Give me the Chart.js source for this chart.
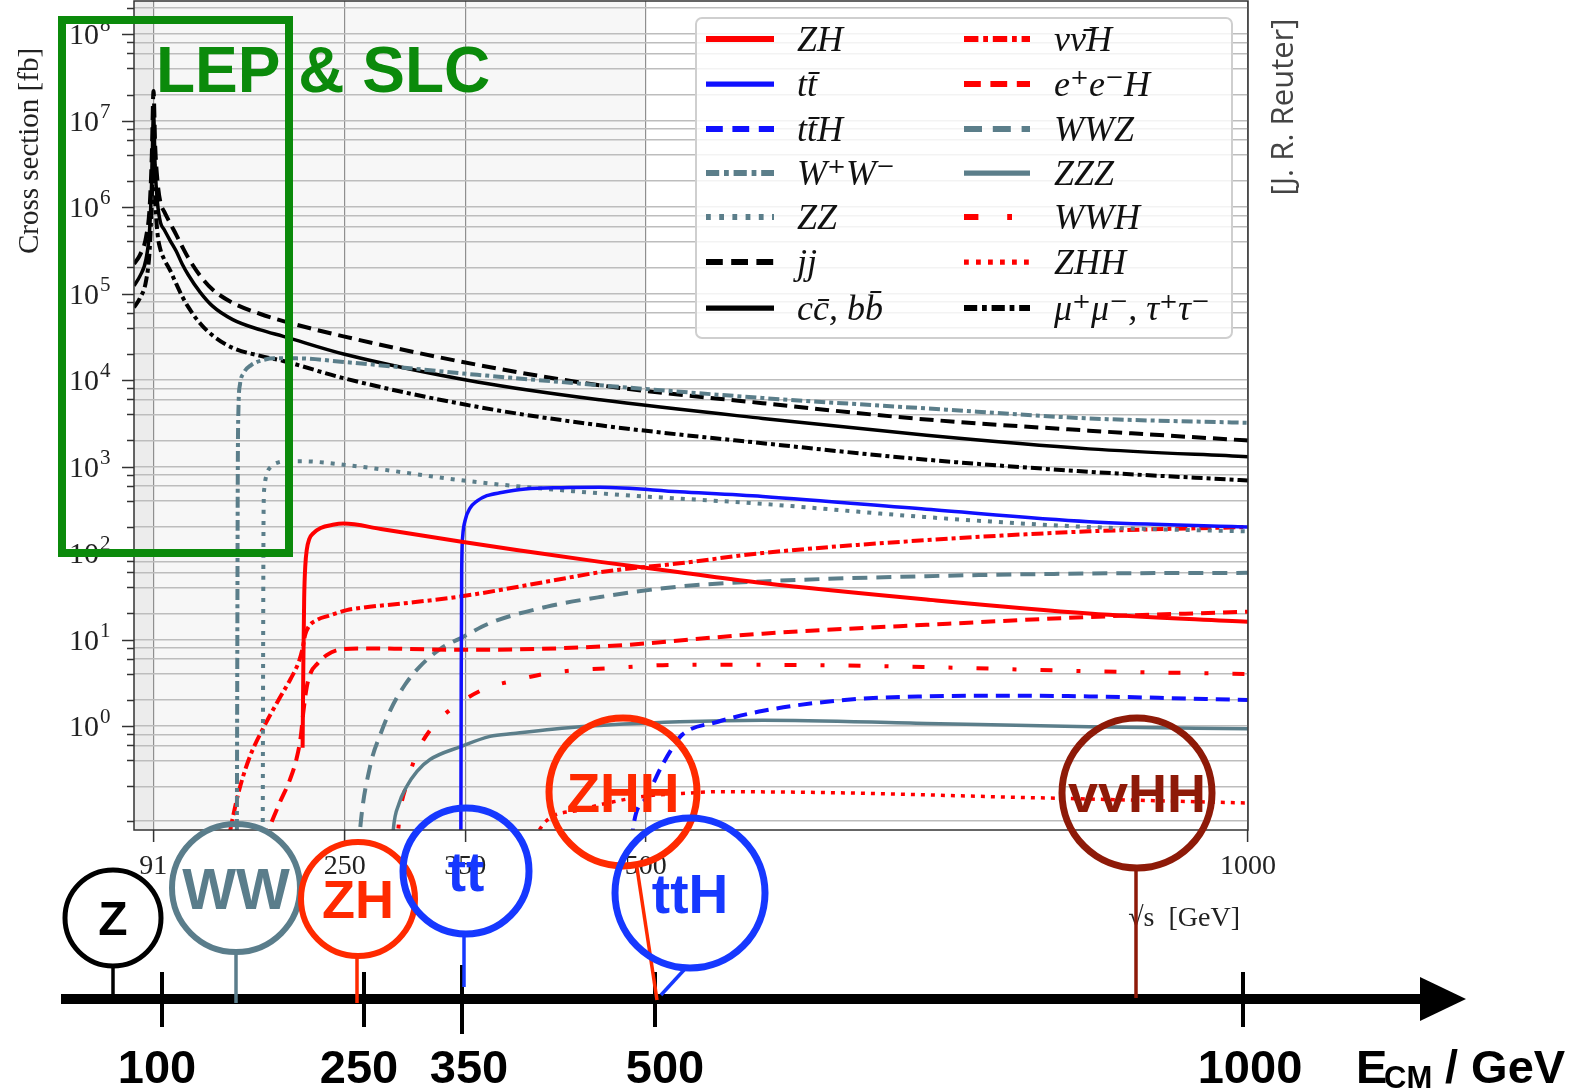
<!DOCTYPE html>
<html>
<head>
<meta charset="utf-8">
<script src="https://cdn.jsdelivr.net/npm/chart.js@4.4.1/dist/chart.umd.min.js"></script>
<style>
  html, body { margin: 0; padding: 0; background: #fff; }
  canvas { display: block; }
</style>
</head>
<body>
<canvas id="xsec" width="1581" height="1089"></canvas>
<script>
// e+e- cross sections [fb] against sqrt(s) [GeV]

// Z-pole processes share one energy grid
const zpoleE  = [75, 80, 85, 88, 89.8, 91.2, 92.6, 94.5, 97, 100, 105, 110, 115, 120, 130, 140, 157, 180, 199, 249, 360, 462, 597, 733, 868, 1000];
const jjXS    = [2.2e5, 2.8e5, 4.5e5, 1.0e6, 4.0e6, 2.2e7, 5.0e6, 2.0e6, 1.12e6, 8.9e5, 6.5e5, 4.8e5, 3.5e5, 2.6e5, 1.6e5, 1.12e5, 7.8e4, 5.8e4, 4.8e4, 3.2e4, 1.5e4, 8.7e3, 5.4e3, 3.5e3, 2.6e3, 2.0e3];
const ccbbXS  = [1.23e5, 1.6e5, 2.5e5, 5.6e5, 2.2e6, 1.26e7, 2.8e6, 1.12e6, 6.6e5, 5.5e5, 4.1e5, 3.1e5, 2.2e5, 1.65e5, 1.03e5, 7.2e4, 5.0e4, 3.8e4, 3.2e4, 2.0e4, 9.5e3, 5.9e3, 3.6e3, 2.3e3, 1.6e3, 1.3e3];
const mumuXS  = [6.9e4, 8.9e4, 1.4e5, 3.2e5, 1.26e6, 6.3e6, 1.26e6, 5.0e5, 3.2e5, 2.5e5, 1.85e5, 1.3e5, 9.3e4, 7.0e4, 4.5e4, 3.3e4, 2.35e4, 1.9e4, 1.66e4, 1.05e4, 4.9e3, 3.0e3, 1.86e3, 1.2e3, 870, 690];

const wwE   = [160.3, 160.8, 161.2, 161.8, 163, 166, 172, 182, 192, 210, 249, 360, 462, 597, 733, 868, 1000];
const wwXS  = [0.01, 10, 1000, 5000, 8900, 1.2e4, 1.48e4, 1.7e4, 1.78e4, 1.78e4, 1.62e4, 1.15e4, 8700, 6200, 4700, 3600, 3200];

const zzE   = [181.8, 182.2, 182.6, 183.2, 185, 189, 195, 202, 215, 249, 360, 462, 597, 733, 868, 1000];
const zzXS  = [0.01, 5, 300, 560, 800, 1000, 1120, 1150, 1150, 1050, 660, 490, 370, 260, 200, 178];

const ttE   = [346.3, 346.7, 347.1, 348, 350, 354, 360, 368, 380, 400, 430, 462, 528, 597, 733, 868, 1000];
const ttXS  = [0.01, 3.2, 63, 160, 240, 330, 400, 460, 500, 550, 570, 575, 510, 450, 320, 230, 200];

const zhE   = [215.0, 215.6, 216.3, 217.2, 218.5, 220.5, 224, 230, 240, 249, 280, 347, 400, 462, 528, 597, 733, 868, 1000];
const zhXS  = [0.56, 5, 30, 70, 110, 145, 170, 195, 212, 219, 190, 135, 105, 79, 60, 45, 29, 20, 16];

const nnhE  = [153.5, 160.8, 170, 182.4, 195, 205, 212, 215, 217, 220, 226, 237.7, 251.6, 265, 300, 347, 418, 462, 528, 597, 733, 868, 1000];
const nnhXS = [0.05, 0.15, 0.4, 0.95, 2.0, 3.5, 5.6, 7.9, 11.2, 14.1, 16.6, 19, 21.9, 23.4, 26.3, 31.6, 46.8, 60, 76, 100, 141, 178, 200];

const eehE  = [183, 188, 196, 204.5, 210, 213.5, 215.5, 218.4, 222, 227, 235, 245, 265, 300, 348, 462, 597, 733, 868, 1000];
const eehXS = [0.045, 0.07, 0.13, 0.24, 0.42, 0.76, 1.4, 2.8, 4.2, 5.2, 6.6, 7.6, 7.9, 7.8, 7.6, 8.3, 11.7, 14.8, 18.2, 21];

const wwzE  = [259, 262.7, 271, 280, 287.6, 300, 312.5, 330, 347, 370.6, 418, 462, 528, 597, 733, 868, 1000];
const wwzXS = [0.01, 0.063, 0.34, 0.83, 1.5, 3.0, 4.9, 7.9, 10.5, 15.5, 24, 31, 41, 47, 54, 58, 59];

const zzzE  = [287, 290.3, 295, 301.4, 310, 320.8, 345.7, 370.6, 390, 445, 528, 597, 733, 868, 1000];
const zzzXS = [0.01, 0.063, 0.126, 0.2, 0.3, 0.41, 0.575, 0.76, 0.82, 0.98, 1.12, 1.17, 1.07, 0.98, 0.93];

const wwhE  = [292, 295.9, 301.4, 309.7, 323.5, 344.3, 367.9, 392.8, 420, 473, 528, 597, 733, 868, 1000];
const wwhXS = [0.025, 0.1, 0.21, 0.48, 1.0, 1.8, 2.75, 3.4, 4.1, 4.7, 5.1, 5.1, 4.8, 4.3, 4.0];

const zhhE  = [403, 417.7, 445, 473, 500, 530, 560, 650, 800, 1000];
const zhhXS = [0.04, 0.081, 0.107, 0.133, 0.155, 0.166, 0.174, 0.17, 0.151, 0.129];

const tthE  = [487, 489.6, 500.7, 512, 522.8, 530, 560, 597.5, 665, 733, 800, 868, 1000];
const tthXS = [0.025, 0.069, 0.15, 0.32, 0.58, 0.79, 1.12, 1.5, 2.0, 2.2, 2.24, 2.2, 2.0];

// axes
const xTicks = [91, 250, 350, 500, 1000];
const xMin = 75, xMax = 1000;
const yMin = 0.0628, yMax = 2.41e8;
const yDecades = [-2, -1, 0, 1, 2, 3, 4, 5, 6, 7, 8];
const yMinorSubs = [2, 4, 6, 8];
const yLabelDecades = [0, 1, 2, 3, 4, 5, 6, 7, 8];
const shadeBands = [[75, 91], [91, 500]];

// hand-drawn energy arrow below the plot
const arrowTickLabels = ['100', '250', '350', '500', '1000'];
const callouts = [
  { text: 'Z',    color: '#000000' },
  { text: 'WW',   color: '#5a7d8b' },
  { text: 'ZH',   color: '#ff2a00' },
  { text: 'tt',   color: '#1638ff' },
  { text: 'ZHH',  color: '#ff2a00' },
  { text: 'ttH',  color: '#1638ff' },
  { text: 'vvHH', color: '#8e1a08' }
];

const RED = '#ff0000', BLUE = '#1010ff', GREY = '#5b7e8a', BLACK = '#000000';
const SERIF = '"Liberation Serif", "DejaVu Serif", serif';
const SANS = '"Liberation Sans", Arial, sans-serif';

function pts(es, vs) {
    return es.map((e, i) => ({ x: e, y: vs[i] }));
}

function line(label, es, vs, color, width, dash) {
    return {
        label: label,
        data: pts(es, vs),
        borderColor: color,
        borderWidth: width,
        borderDash: dash,
        fill: false,
        pointRadius: 0
    };
}

// legend order: first column then second column
const datasets = [
    line('ZH', zhE, zhXS, RED, 4, []),
    line('tt\u0304', ttE, ttXS, BLUE, 3.5, []),
    line('tt\u0304H', tthE, tthXS, BLUE, 4, [14, 8]),
    line('W\u207AW\u207B', wwE, wwXS, GREY, 4, [11, 4, 4, 4]),
    line('ZZ', zzE, zzXS, GREY, 4, [4, 7]),
    line('jj', zpoleE, jjXS, BLACK, 4, [14, 7]),
    line('cc\u0304, bb\u0304', zpoleE, ccbbXS, BLACK, 3.5, []),
    line('\u03BD\u03BD\u0304H', nnhE, nnhXS, RED, 4, [12, 4, 4, 4]),
    line('e\u207Ae\u207BH', eehE, eehXS, RED, 4, [14, 8]),
    line('WWZ', wwzE, wwzXS, GREY, 4, [15, 9]),
    line('ZZZ', zzzE, zzzXS, GREY, 3.5, []),
    line('WWH', wwhE, wwhXS, RED, 4, [12, 24, 4, 24]),
    line('ZHH', zhhE, zhhXS, RED, 3.5, [4, 6]),
    line('\u03BC\u207A\u03BC\u207B, \u03C4\u207A\u03C4\u207B', zpoleE, mumuXS, BLACK, 4, [11, 4, 4, 4])
];

function decadeOf(v) {
    const l = Math.log10(v);
    return Math.abs(l - Math.round(l)) < 1e-6 ? Math.round(l) : null;
}

// background, frame, legend and the pasted-on annotations
const decor = {
    id: 'decor',
    beforeDraw(chart) {
        const { ctx, chartArea: a, scales: { x } } = chart;
        ctx.save();
        ctx.fillStyle = '#ffffff';
        ctx.fillRect(0, 0, chart.width, chart.height);
        const shades = ['#ececec', '#f7f7f7'];
        shadeBands.forEach((b, i) => {
            const x0 = x.getPixelForValue(b[0]), x1 = x.getPixelForValue(b[1]);
            ctx.fillStyle = shades[i];
            ctx.fillRect(x0, a.top, x1 - x0, a.bottom - a.top);
        });
        ctx.restore();
    },
    afterDraw(chart) {
        const { ctx, chartArea: a, scales: { y } } = chart;
        ctx.save();

        // y tick marks (long for decades) and 10^n labels
        ctx.strokeStyle = '#333';
        ctx.lineWidth = 1.5;
        y.ticks.forEach(t => {
            const py = Math.round(y.getPixelForValue(t.value)) + 0.5;
            const d = decadeOf(t.value);
            const len = d !== null ? 12 : 7;
            ctx.beginPath();
            ctx.moveTo(a.left - len, py);
            ctx.lineTo(a.left, py);
            ctx.stroke();
            if (d !== null && yLabelDecades.includes(d)) {
                ctx.fillStyle = '#222';
                ctx.textBaseline = 'middle';
                ctx.textAlign = 'right';
                ctx.font = '30px ' + SERIF;
                ctx.fillText('10', 99, py + 2);
                ctx.textAlign = 'left';
                ctx.font = '21px ' + SERIF;
                ctx.fillText(String(d), 100, py - 9);
            }
        });

        // frame
        ctx.strokeStyle = '#333';
        ctx.lineWidth = 1.5;
        ctx.strokeRect(a.left, a.top, a.right - a.left, a.bottom - a.top);

        // legend
        ctx.fillStyle = 'rgba(255,255,255,0.82)';
        ctx.strokeStyle = '#cfcfcf';
        ctx.lineWidth = 2;
        ctx.beginPath();
        ctx.roundRect(696, 18, 536, 320, 6);
        ctx.fill();
        ctx.stroke();
        const rows = [39, 84, 129, 173, 217, 262, 308];
        chart.data.datasets.forEach((ds, i) => {
            const col = i < 7 ? 0 : 1;
            const py = rows[i % 7];
            const x1 = col ? 964 : 706, x2 = col ? 1030 : 774, tx = col ? 1054 : 797;
            ctx.strokeStyle = ds.borderColor;
            ctx.lineWidth = ds.borderWidth * 1.5;
            ctx.setLineDash(ds.borderDash.map(d => d * 1.2));
            ctx.beginPath();
            ctx.moveTo(x1, py);
            ctx.lineTo(x2, py);
            ctx.stroke();
            ctx.setLineDash([]);
            ctx.fillStyle = '#111';
            ctx.font = 'italic 36px ' + SERIF;
            ctx.textAlign = 'left';
            ctx.textBaseline = 'alphabetic';
            ctx.fillText(ds.label, tx, py + 12);
        });

        // axis titles and credit
        ctx.fillStyle = '#222';
        ctx.font = '28px ' + SERIF;
        ctx.textAlign = 'right';
        ctx.textBaseline = 'alphabetic';
        ctx.fillText('\u221As  [GeV]', 1240, 926);

        ctx.save();
        ctx.translate(30, 151);
        ctx.rotate(-Math.PI / 2);
        ctx.textAlign = 'center';
        ctx.textBaseline = 'middle';
        ctx.font = '29px ' + SERIF;
        ctx.fillText('Cross section [fb]', 0, 0);
        ctx.restore();

        ctx.save();
        ctx.translate(1284, 107);
        ctx.rotate(-Math.PI / 2);
        ctx.textAlign = 'center';
        ctx.textBaseline = 'middle';
        ctx.fillStyle = '#444';
        ctx.font = '31px "Open Sans", ' + SANS;
        ctx.fillText('[J. R. Reuter]', 0, 0);
        ctx.restore();

        // LEP & SLC box
        ctx.strokeStyle = '#0b8a0b';
        ctx.lineWidth = 8;
        ctx.strokeRect(62, 20, 227, 533);
        ctx.fillStyle = '#0b8a0b';
        ctx.font = 'bold 64px ' + SANS;
        ctx.textAlign = 'left';
        ctx.textBaseline = 'alphabetic';
        ctx.fillText('LEP & SLC', 156, 92);

        // energy arrow
        ctx.strokeStyle = '#000';
        ctx.fillStyle = '#000';
        ctx.lineWidth = 10;
        ctx.beginPath();
        ctx.moveTo(61, 999);
        ctx.lineTo(1424, 999);
        ctx.stroke();
        ctx.beginPath();
        ctx.moveTo(1420, 977);
        ctx.lineTo(1466, 999);
        ctx.lineTo(1420, 1021);
        ctx.closePath();
        ctx.fill();

        const tickX = [162, 364, 462, 655, 1243];
        const labelX = [157, 359, 469, 665, 1250];
        ctx.lineWidth = 4;
        ctx.font = 'bold 47px ' + SANS;
        ctx.textAlign = 'center';
        arrowTickLabels.forEach((lab, i) => {
            const ext = lab === '350' ? 7 : 0;
            ctx.beginPath();
            ctx.moveTo(tickX[i], 972 - ext);
            ctx.lineTo(tickX[i], 1027 + ext);
            ctx.stroke();
            ctx.fillText(lab, labelX[i], 1083);
        });
        ctx.textAlign = 'left';
        ctx.fillText('E', 1356, 1083);
        ctx.font = 'bold 31px ' + SANS;
        ctx.fillText('CM', 1384, 1088);
        ctx.font = 'bold 47px ' + SANS;
        ctx.fillText('/ GeV', 1445, 1083);

        // callout circles: centre, radius, line width, font size, stem
        const geom = [
            [113, 918, 48, 5, 48, [113, 966, 113, 998]],
            [236, 888, 64, 6, 57, [236, 952, 236, 1003]],
            [358, 899, 57, 6, 54, [357, 956, 357, 1003]],
            [466, 871, 63, 7, 55, [464, 934, 464, 987]],
            [623, 792, 74, 7, 55, [637, 868, 657, 1000]],
            [690, 893, 75, 7, 55, [684, 970, 661, 995]],
            [1137, 793, 75, 7, 54, [1136, 868, 1136, 998]]
        ];
        callouts.forEach((c, i) => {
            const [cx, cy, r, lw, fs, st] = geom[i];
            ctx.strokeStyle = c.color;
            ctx.lineWidth = 3.5;
            ctx.beginPath();
            ctx.moveTo(st[0], st[1]);
            ctx.lineTo(st[2], st[3]);
            ctx.stroke();
            ctx.lineWidth = lw;
            ctx.beginPath();
            ctx.arc(cx, cy, r, 0, Math.PI * 2);
            ctx.stroke();
            ctx.fillStyle = c.color;
            ctx.font = 'bold ' + fs + 'px ' + SANS;
            ctx.textAlign = 'center';
            ctx.textBaseline = 'alphabetic';
            ctx.fillText(c.text, cx, cy + fs * 0.36);
        });

        ctx.restore();
    }
};

new Chart(document.getElementById('xsec').getContext('2d'), {
    type: 'line',
    data: { datasets: datasets },
    options: {
        responsive: false,
        animation: false,
        layout: { padding: { left: 0, right: 333, top: 1, bottom: 209 } },
        elements: {
            point: { radius: 0 },
            line: { cubicInterpolationMode: 'monotone', borderCapStyle: 'butt', borderJoinStyle: 'round' }
        },
        plugins: {
            legend: { display: false },
            tooltip: { enabled: false }
        },
        scales: {
            x: {
                type: 'linear',
                min: xMin,
                max: xMax,
                afterBuildTicks: s => { s.ticks = xTicks.map(v => ({ value: v })); },
                afterFit: s => { s.height = 50; s.paddingLeft = 0; s.paddingRight = 0; },
                border: { display: false },
                grid: { color: '#8f8f8f', lineWidth: 1.2, tickLength: 12, tickColor: '#333', tickWidth: 1.5 },
                ticks: {
                    autoSkip: false,
                    maxRotation: 0,
                    padding: 8,
                    color: '#222',
                    font: { family: SERIF, size: 28 },
                    callback: v => String(v)
                }
            },
            y: {
                type: 'logarithmic',
                min: yMin,
                max: yMax,
                afterBuildTicks: s => {
                    const vals = [];
                    yDecades.forEach(d => {
                        vals.push(Math.pow(10, d));
                        yMinorSubs.forEach(m => vals.push(m * Math.pow(10, d)));
                    });
                    s.ticks = vals.filter(v => v >= yMin && v <= yMax && !(v === 0.1)).map(v => ({ value: v }));
                },
                afterFit: s => { s.width = 134; s.paddingTop = 0; s.paddingBottom = 0; },
                border: { display: false },
                grid: { color: '#bdbdbd', lineWidth: 1.4, drawTicks: false },
                ticks: { display: false, autoSkip: false }
            }
        }
    },
    plugins: [decor]
});
</script>
</body>
</html>
